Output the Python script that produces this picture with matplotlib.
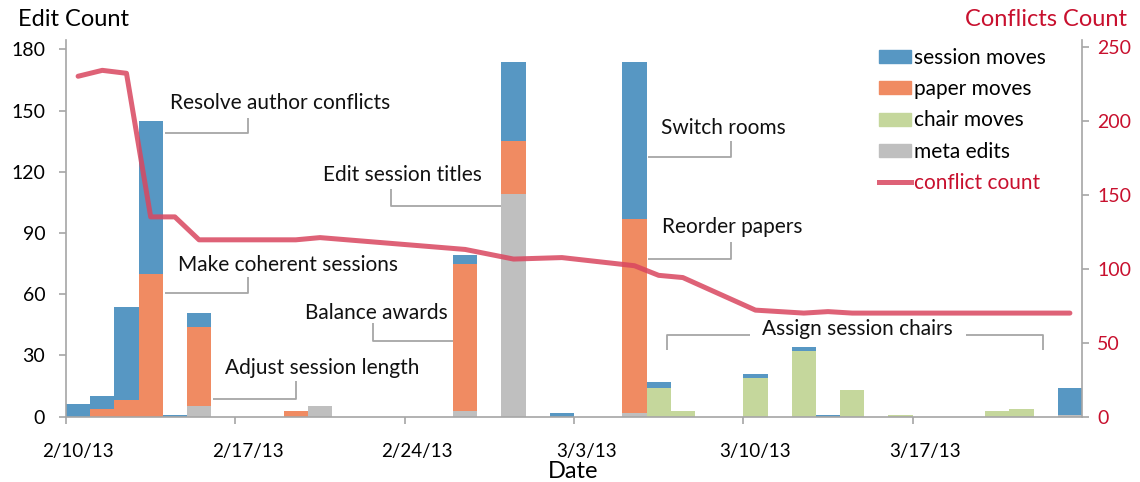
import matplotlib.pyplot as plt
import numpy as np
from matplotlib.patches import Patch
from matplotlib.lines import Line2D

plt.rcParams['font.family'] = ['Lato', 'DejaVu Sans']

# one bar per day, starting 2/10/13
session_moves = [6, 6, 46, 75, 1, 7, 0, 0, 0, 0, 0, 0, 0, 0, 0, 0, 4, 0, 39, 0, 2,
                 0, 0, 77, 3, 0, 0, 0, 2, 0, 2, 1, 0, 0, 0, 0, 0, 0, 0, 0, 0, 13]
paper_moves = [0, 4, 8, 70, 0, 39, 0, 0, 0, 3, 0, 0, 0, 0, 0, 0, 72, 0, 26, 0, 0,
               0, 0, 95, 0, 0, 0, 0, 0, 0, 0, 0, 0, 0, 0, 0, 0, 0, 0, 0, 0, 0]
chair_moves = [0, 0, 0, 0, 0, 0, 0, 0, 0, 0, 0, 0, 0, 0, 0, 0, 0, 0, 0, 0, 0,
               0, 0, 0, 14, 3, 0, 0, 19, 0, 32, 0, 13, 0, 1, 0, 0, 0, 3, 4, 0, 0]
meta_edits = [0, 0, 0, 0, 0, 5, 0, 0, 0, 0, 5, 0, 0, 0, 0, 0, 3, 0, 109, 0, 0,
              0, 0, 2, 0, 0, 0, 0, 0, 0, 0, 0, 0, 0, 0, 0, 0, 0, 0, 0, 0, 1]

conflict_days = [0, 1, 2, 3, 4, 5, 9, 10, 16, 18, 20, 23, 24, 25, 28, 30, 31, 32, 41]
conflict_count = [230, 234, 232, 135, 135, 119.5, 119.5, 121, 113, 106.5, 107.5,
                  102, 95.5, 94, 72, 70, 71, 70, 70]

date_ticks = [0, 7, 14, 21, 28, 35]
date_labels = ['2/10/13', '2/17/13', '2/24/13', '3/3/13', '3/10/13', '3/17/13']

C_SESSION = '#5797c3'
C_PAPER = '#f08b62'
C_CHAIR = '#c5d79c'
C_META = '#bfbfbf'
C_LINE = '#d9465f'
C_RED = '#c8102e'
C_GREY = '#a6a6a6'

W, H = 1140, 482
fig = plt.figure(figsize=(W / 100, H / 100), dpi=100)
ax = fig.add_axes([66 / W, 65.3 / H, 1016 / W, 376.7 / H])

days = np.arange(len(session_moves))
meta = np.array(meta_edits)
chair = np.array(chair_moves)
paper = np.array(paper_moves)
sess = np.array(session_moves)
ax.bar(days, meta, width=1, align='edge', color=C_META, lw=0)
ax.bar(days, chair, width=1, align='edge', bottom=meta, color=C_CHAIR, lw=0)
ax.bar(days, paper, width=1, align='edge', bottom=meta + chair, color=C_PAPER, lw=0)
ax.bar(days, sess, width=1, align='edge', bottom=meta + chair + paper, color=C_SESSION, lw=0)

ax.set_xlim(0, len(days))
ax.set_ylim(0, 184.6)
ax.set_yticks(np.arange(0, 181, 30))
ax.set_xticks(date_ticks)
ax.set_xticklabels([])
ax.set_xticks(np.array(date_ticks) + 0.5, minor=True)
ax.set_xticklabels(date_labels, minor=True)
ax.tick_params(axis='x', which='major', length=5, width=1.2, color=C_GREY)
ax.tick_params(axis='x', which='minor', length=0, pad=19, labelsize=13.5)
ax.tick_params(axis='y', length=5, width=1.2, color=C_GREY, pad=10, labelsize=14)
for s in ['top', 'right']:
    ax.spines[s].set_visible(False)
for s in ['left', 'bottom']:
    ax.spines[s].set_color(C_GREY)
    ax.spines[s].set_linewidth(1.2)

# callouts: text, text pos, leader path
def callout(text, tx, ty, path):
    ax.text(tx, ty, text, fontsize=15, ha='left', va='center', color='#111111')
    xs, ys = zip(*path)
    ax.plot(xs, ys, color=C_GREY, lw=1.3, solid_capstyle='butt', clip_on=False)

callout('Resolve author conflicts', 4.30, 153.7, [(4.1, 138.9), (7.54, 138.9), (7.54, 146.5)])
callout('Make coherent sessions', 4.63, 74.3, [(4.1, 60.5), (7.54, 60.5), (7.54, 68.4)])
callout('Adjust session length', 6.57, 23.9, [(6.08, 8.7), (9.51, 8.7), (9.51, 17.5)])
callout('Edit session titles', 10.61, 118.4, [(18.0, 103.4), (13.42, 103.4), (13.42, 111.6)])
callout('Balance awards', 9.88, 50.6, [(16.0, 37.1), (12.7, 37.1), (12.7, 45.9)])
callout('Switch rooms', 24.6, 141.4, [(24.06, 127.1), (27.48, 127.1), (27.48, 135.2)])
callout('Reorder papers', 24.64, 93.1, [(24.06, 77.1), (27.48, 77.1), (27.48, 85.6)])
callout('Assign session chairs', 28.76, 43.0, [(24.83, 32.7), (24.83, 40.0), (28.28, 40.0)])
ax.plot([37.2, 40.4, 40.4], [40.0, 40.0, 32.7], color=C_GREY, lw=1.3, solid_capstyle='butt')

ax2 = ax.twinx()
ax2.plot(np.array(conflict_days) + 0.5, conflict_count, color=C_LINE, lw=3.6,
         alpha=0.85, solid_capstyle='round', solid_joinstyle='round')
ax2.set_ylim(0, 254.5)
ax2.set_yticks(np.arange(0, 251, 50))
ax2.tick_params(axis='y', length=5, width=1.2, color=C_GREY, pad=6,
                labelsize=14, labelcolor=C_RED)
for s in ['top', 'left', 'bottom']:
    ax2.spines[s].set_visible(False)
ax2.spines['right'].set_color(C_GREY)
ax2.spines['right'].set_linewidth(1.2)

handles = [Patch(color=C_SESSION), Patch(color=C_PAPER), Patch(color=C_CHAIR),
           Patch(color=C_META), Line2D([], [], color=C_LINE, lw=3.6, alpha=0.85)]
labels = ['session moves', 'paper moves', 'chair moves', 'meta edits', 'conflict count']
leg = ax2.legend(handles, labels, loc='upper left', bbox_to_anchor=(879 / W, 1 - 48 / H),
                 bbox_transform=fig.transFigure, frameon=False, fontsize=15,
                 handlelength=1.54, handleheight=0.58, handletextpad=0.15,
                 labelspacing=0.54, borderpad=0, borderaxespad=0)
leg.get_texts()[4].set_color(C_RED)

fig.text(18 / W, 1 - 20 / H, 'Edit Count', fontsize=17, ha='left', va='center')
fig.text(1127 / W, 1 - 20 / H, 'Conflicts Count', fontsize=17, ha='right', va='center', color=C_RED)
fig.text(573 / W, 1 - 472 / H, 'Date', fontsize=17, ha='center', va='center')

fig.savefig('out.png', dpi=100)
